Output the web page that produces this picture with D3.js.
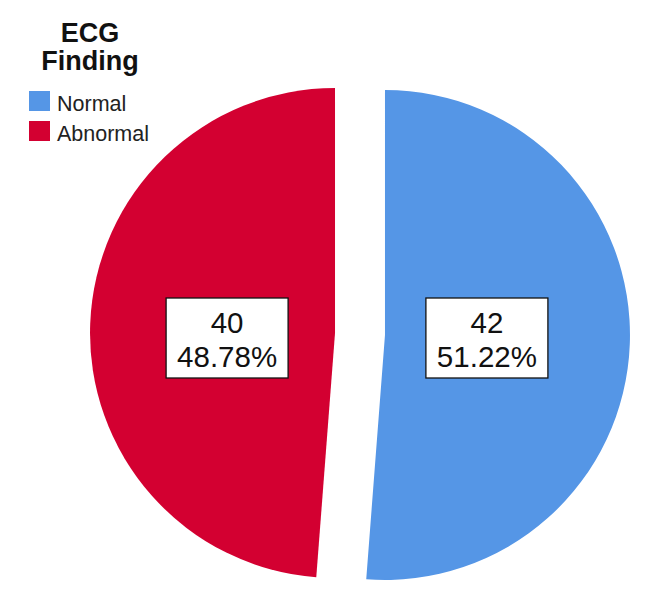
<!DOCTYPE html>
<html>
<head>
<meta charset="utf-8">
<script src="https://cdn.jsdelivr.net/npm/d3@7"></script>
<style>
  html, body { margin: 0; padding: 0; background: #fff; }
  svg { display: block; font-family: "Liberation Sans", Arial, sans-serif; }
</style>
</head>
<body>
<svg id="chart" width="658" height="602"></svg>
<script>
const categories = ["Normal", "Abnormal"];
const counts = [42, 40];
const percentLabels = ["51.22%", "48.78%"];
const legendTitle = ["ECG", "Finding"];
const colors = ["#5596E6", "#D30031"];

const svg = d3.select("#chart");
const cx = 360, cy = 334, R = 245, explode = 25, labelR = 130;

const data = categories.map((c, i) => ({ cat: c, count: counts[i], pct: percentLabels[i], color: colors[i] }));

const pie = d3.pie().sort(null).value(d => d.count).startAngle(0).endAngle(2 * Math.PI);
const arcs = pie(data);
const arc = d3.arc().innerRadius(0).outerRadius(R);

const g = svg.append("g").attr("transform", `translate(${cx},${cy})`);

const slice = g.selectAll("g.slice").data(arcs).enter().append("g")
  .attr("class", "slice")
  .attr("transform", d => {
    const a = (d.startAngle + d.endAngle) / 2;
    return `translate(${explode * Math.sin(a)},${-explode * Math.cos(a)})`;
  });

slice.append("path")
  .attr("d", arc)
  .attr("fill", d => d.data.color);

// labels
const boxW = 122, boxH = 80;
const lbl = g.selectAll("g.lbl").data(arcs).enter().append("g")
  .attr("class", "lbl")
  .attr("transform", d => {
    const a = (d.startAngle + d.endAngle) / 2;
    const x = labelR * Math.sin(a) - 3;
    return `translate(${x},${4})`;
  });

lbl.append("rect")
  .attr("x", -boxW / 2).attr("y", -boxH / 2)
  .attr("width", boxW).attr("height", boxH)
  .attr("fill", "#fff").attr("stroke", "#111").attr("stroke-width", 1.3);

const t = lbl.append("text")
  .attr("text-anchor", "middle")
  .attr("font-size", 29.5).attr("fill", "#111");
t.append("tspan")
  .attr("x", 0).attr("y", -boxH / 2 + 35)
  .text(d => d.data.count);
t.append("tspan")
  .attr("x", 0).attr("y", -boxH / 2 + 69)
  .text(d => d.data.pct);

// legend
const leg = svg.append("g");
leg.append("text")
  .attr("text-anchor", "middle")
  .attr("font-size", 27).attr("font-weight", "bold").attr("fill", "#111")
  .selectAll("tspan").data(legendTitle).enter().append("tspan")
  .attr("x", 90).attr("y", (d, i) => 42 + i * 28)
  .text(d => d);

const items = leg.selectAll("g.item").data(data).enter().append("g")
  .attr("class", "item")
  .attr("transform", (d, i) => `translate(29,${91 + i * 30})`);
items.append("rect")
  .attr("width", 21).attr("height", 20)
  .attr("fill", d => d.color);
items.append("text")
  .attr("x", 28).attr("y", 20)
  .attr("font-size", 21.5).attr("fill", "#222")
  .text(d => d.cat);
</script>
</body>
</html>
